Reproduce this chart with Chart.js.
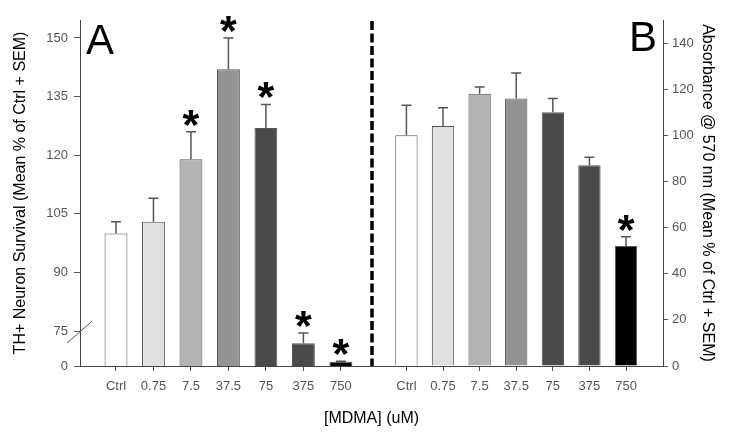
<!DOCTYPE html>
<html>
<head>
<meta charset="utf-8">
<script src="https://cdn.jsdelivr.net/npm/chart.js@4.4.1/dist/chart.umd.min.js"></script>
<style>
  body { margin: 0; background: #fff; }
  canvas { display: block; background: #fff; }
</style>
</head>
<body>
<canvas id="myChart" width="730" height="436"></canvas>
<script>
const doseLabels = ['Ctrl', '0.75', '7.5', '37.5', '75', '375', '750'];

// panel A - TH+ neuron survival (% of ctrl)
const survivalMean = [100, 103, 119, 142, 127, 49, 9];
const survivalSem = [3, 6, 7, 8, 6, 22, 1];
const survivalSig = [false, false, true, true, true, true, true];

// panel B - absorbance @ 570 nm (% of ctrl)
const absorbMean = [100, 104, 118, 116, 110, 87, 52];
const absorbSem = [13, 8, 3, 11, 6, 3.5, 4];
const absorbSig = [false, false, false, false, false, false, true];

const survivalTicks = [0, 75, 90, 105, 120, 135, 150];
const absorbTicks = [0, 20, 40, 60, 80, 100, 120, 140];

const barColors = ['#ffffff', '#e0e0e0', '#b4b4b4', '#949494', '#4a4a4a', '#4a4a4a', '#000000'];

// left axis is broken: 0..75 squeezed into a short bottom segment
const axisBottom = 66.1;
const breakAt = 75;
function toAxisA(v) {
    if (v >= breakAt) return v;
    return axisBottom + v * (breakAt - axisBottom) / breakAt;
}

Chart.defaults.font.family = '"Liberation Sans", Arial, sans-serif';
Chart.defaults.color = '#555';

const gray = '#555';
const axisColor = '#444';

const extras = {
    id: 'extras',
    afterDraw(chart) {
        const ctx = chart.ctx;
        const area = chart.chartArea;
        const xA = chart.scales.xA;
        const yA = chart.scales.y;
        ctx.save();

        // dashed separator between panels
        ctx.strokeStyle = '#000';
        ctx.lineWidth = 3.5;
        ctx.setLineDash([9, 3.5]);
        ctx.beginPath();
        ctx.moveTo(xA.right, area.top + 1);
        ctx.lineTo(xA.right, area.bottom);
        ctx.stroke();
        ctx.setLineDash([]);

        // axis break mark
        const yb = yA.getPixelForValue(breakAt);
        ctx.strokeStyle = gray;
        ctx.lineWidth = 1;
        ctx.beginPath();
        ctx.moveTo(area.left - 13, yb + 12);
        ctx.lineTo(area.left + 12, yb - 10);
        ctx.stroke();

        // panel letters
        ctx.fillStyle = '#000';
        ctx.font = '42px "Liberation Sans", Arial, sans-serif';
        ctx.textBaseline = 'alphabetic';
        ctx.textAlign = 'left';
        ctx.fillText('A', area.left + 6, area.top + 34);
        ctx.textAlign = 'right';
        ctx.fillText('B', area.right - 6, area.top + 31);

        const panels = [
            { meta: chart.getDatasetMeta(0), mean: survivalMean, sem: survivalSem, sig: survivalSig, scale: yA, tf: toAxisA },
            { meta: chart.getDatasetMeta(1), mean: absorbMean, sem: absorbSem, sig: absorbSig, scale: chart.scales.y2, tf: v => v }
        ];
        panels.forEach(p => {
            p.meta.data.forEach((bar, i) => {
                const top = p.scale.getPixelForValue(p.tf(p.mean[i] + p.sem[i]));
                ctx.strokeStyle = gray;
                ctx.lineWidth = 1.5;
                ctx.beginPath();
                ctx.moveTo(bar.x, bar.y);
                ctx.lineTo(bar.x, top);
                ctx.moveTo(bar.x - 5, top);
                ctx.lineTo(bar.x + 5, top);
                ctx.stroke();
                if (p.sig[i]) {
                    ctx.fillStyle = '#000';
                    ctx.font = 'bold 43px "Liberation Sans", Arial, sans-serif';
                    ctx.textAlign = 'center';
                    ctx.fillText('*', bar.x, top + 7);
                }
            });
        });
        ctx.restore();
    }
};

function xScale(min, max, weight) {
    return {
        type: 'linear',
        position: 'bottom',
        stack: 'doses',
        stackWeight: weight,
        offset: false,
        min: min,
        max: max,
        afterBuildTicks: s => { s.ticks = doseLabels.map((l, i) => ({ value: i })); },
        afterFit: s => { s.height = 30; },
        ticks: {
            autoSkip: false,
            maxRotation: 0,
            padding: 8,
            color: gray,
            font: { size: 13 },
            callback: v => doseLabels[v]
        },
        grid: { offset: false, drawOnChartArea: false, tickLength: 5, color: gray },
        border: { color: axisColor }
    };
}

const ctx = document.querySelector('#myChart').getContext('2d');
const myChart = new Chart(ctx, {
    type: 'bar',
    data: {
        datasets: [{
            label: 'TH+ Neuron Survival',
            data: survivalMean.map((v, i) => ({ x: i, y: toAxisA(v) })),
            xAxisID: 'xA',
            yAxisID: 'y',
            backgroundColor: barColors,
            borderColor: gray,
            borderWidth: 1,
            grouped: false,
            categoryPercentage: 1,
            barPercentage: 0.61
        }, {
            label: 'Absorbance',
            data: absorbMean.map((v, i) => ({ x: i, y: v })),
            xAxisID: 'xB',
            yAxisID: 'y2',
            backgroundColor: barColors,
            borderColor: gray,
            borderWidth: 1,
            grouped: false,
            categoryPercentage: 1,
            barPercentage: 0.61
        }]
    },
    options: {
        responsive: false,
        animation: false,
        layout: { padding: { top: 20, left: 0, right: 0, bottom: 0 } },
        plugins: {
            legend: { display: false },
            tooltip: { enabled: false },
            title: {
                display: true,
                position: 'bottom',
                fullSize: false,
                text: '[MDMA] (uM)',
                color: '#000',
                font: { size: 16, weight: 'normal' },
                padding: { top: 13.4, bottom: 7.4 }
            }
        },
        scales: {
            xA: xScale(-0.96, 6.83, 292),
            xB: xScale(-0.94, 7.01, 291),
            y: {
                type: 'linear',
                position: 'left',
                min: axisBottom,
                max: 154.6,
                afterBuildTicks: s => { s.ticks = survivalTicks.map(v => ({ value: toAxisA(v) })); },
                afterFit: s => { s.width = 80; },
                ticks: {
                    padding: 6,
                    color: gray,
                    font: { size: 13 },
                    callback: (v, i) => String(survivalTicks[i])
                },
                grid: { drawOnChartArea: false, tickLength: 6, color: gray },
                border: { color: axisColor },
                title: {
                    display: true,
                    text: 'TH+ Neuron Survival (Mean % of Ctrl + SEM)',
                    color: '#000',
                    font: { size: 16 },
                    padding: { top: 11, bottom: 0 }
                }
            },
            y2: {
                type: 'linear',
                position: 'right',
                min: 0,
                max: 150,
                afterBuildTicks: s => { s.ticks = absorbTicks.map(v => ({ value: v })); },
                afterFit: s => { s.width = 67; },
                ticks: {
                    padding: 4,
                    color: gray,
                    font: { size: 13 }
                },
                grid: { drawOnChartArea: false, tickLength: 5, color: gray },
                border: { color: axisColor },
                title: {
                    display: true,
                    text: 'Absorbance @ 570 nm (Mean % of Ctrl + SEM)',
                    color: '#000',
                    font: { size: 16 },
                    padding: { top: 13, bottom: 0 }
                }
            }
        }
    },
    plugins: [extras]
});
</script>
</body>
</html>
